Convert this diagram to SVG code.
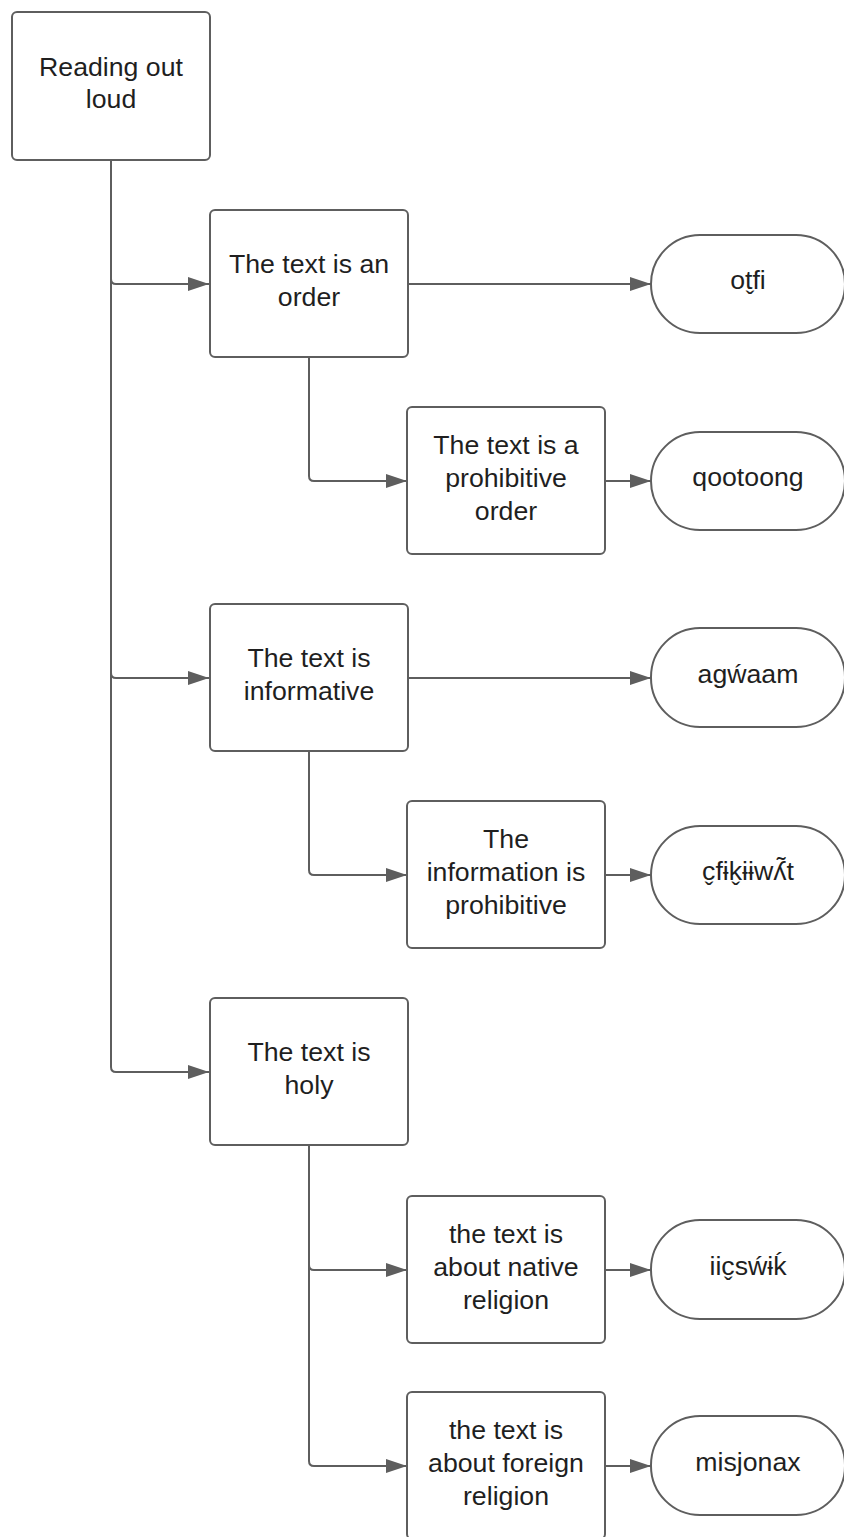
<svg xmlns="http://www.w3.org/2000/svg" width="844" height="1537" viewBox="0 0 844 1537">
<style>
.box{fill:#fff;stroke:#5e5e5e;stroke-width:2}
.ln{fill:none;stroke:#5e5e5e;stroke-width:2}
.t{font-family:"Liberation Sans","DejaVu Sans",Arial,sans-serif;font-size:26.7px;fill:#1f1f1f;text-anchor:middle}
</style>
<defs>
<marker id="arr" markerUnits="userSpaceOnUse" markerWidth="22" markerHeight="14" refX="21" refY="7" orient="auto">
<path d="M0,0 L21,7 L0,14 z" fill="#5e5e5e"/>
</marker>
</defs>
<rect width="844" height="1537" fill="#fff"/>
<g id="connectors">
<path class="ln" d="M111,160 V279 Q111,284 116,284 H209" marker-end="url(#arr)"/>
<path class="ln" d="M111,160 V673 Q111,678 116,678 H209" marker-end="url(#arr)"/>
<path class="ln" d="M111,160 V1067 Q111,1072 116,1072 H209" marker-end="url(#arr)"/>
<path class="ln" d="M408,284 H651" marker-end="url(#arr)"/>
<path class="ln" d="M309,357 V476 Q309,481 314,481 H407" marker-end="url(#arr)"/>
<path class="ln" d="M605,481 H651" marker-end="url(#arr)"/>
<path class="ln" d="M408,678 H651" marker-end="url(#arr)"/>
<path class="ln" d="M309,751 V870 Q309,875 314,875 H407" marker-end="url(#arr)"/>
<path class="ln" d="M605,875 H651" marker-end="url(#arr)"/>
<path class="ln" d="M309,1145 V1265 Q309,1270 314,1270 H407" marker-end="url(#arr)"/>
<path class="ln" d="M309,1145 V1461 Q309,1466 314,1466 H407" marker-end="url(#arr)"/>
<path class="ln" d="M605,1270 H651" marker-end="url(#arr)"/>
<path class="ln" d="M605,1466 H651" marker-end="url(#arr)"/>
</g>
<g id="root">
<rect class="box" x="12" y="12" width="198" height="148" rx="5"/>
<text class="t" x="111" y="76">Reading out</text>
<text class="t" x="111" y="108">loud</text>
</g>
<g id="order">
<rect class="box" x="210" y="210" width="198" height="147" rx="5"/>
<text class="t" x="309" y="273">The text is an</text>
<text class="t" x="309" y="306">order</text>
</g>
<g id="otfi">
<rect class="box" x="651" y="235" width="194" height="98" rx="49"/>
<text class="t" x="748" y="289">ot̬fi</text>
</g>
<g id="prohibitive-order">
<rect class="box" x="407" y="407" width="198" height="147" rx="5"/>
<text class="t" x="506" y="454">The text is a</text>
<text class="t" x="506" y="487">prohibitive</text>
<text class="t" x="506" y="520">order</text>
</g>
<g id="qootoong">
<rect class="box" x="651" y="432" width="194" height="98" rx="49"/>
<text class="t" x="748" y="486">qootoong</text>
</g>
<g id="informative">
<rect class="box" x="210" y="604" width="198" height="147" rx="5"/>
<text class="t" x="309" y="667">The text is</text>
<text class="t" x="309" y="700">informative</text>
</g>
<g id="agwaam">
<rect class="box" x="651" y="628" width="194" height="99" rx="49"/>
<text class="t" x="748" y="683">agẃaam</text>
</g>
<g id="info-prohibitive">
<rect class="box" x="407" y="801" width="198" height="147" rx="5"/>
<text class="t" x="506" y="848">The</text>
<text class="t" x="506" y="881">information is</text>
<text class="t" x="506" y="914">prohibitive</text>
</g>
<g id="cfikiiwlt">
<rect class="box" x="651" y="826" width="194" height="98" rx="49"/>
<text class="t" x="748" y="880">c̬fɨk̬ɨɨwʎ̃t</text>
</g>
<g id="holy">
<rect class="box" x="210" y="998" width="198" height="147" rx="5"/>
<text class="t" x="309" y="1061">The text is</text>
<text class="t" x="309" y="1094">holy</text>
</g>
<g id="native">
<rect class="box" x="407" y="1196" width="198" height="147" rx="5"/>
<text class="t" x="506" y="1243">the text is</text>
<text class="t" x="506" y="1276">about native</text>
<text class="t" x="506" y="1309">religion</text>
</g>
<g id="iicswik">
<rect class="box" x="651" y="1220" width="194" height="99" rx="49"/>
<text class="t" x="748" y="1275">iic̬sẃɨḱ</text>
</g>
<g id="foreign">
<rect class="box" x="407" y="1392" width="198" height="147" rx="5"/>
<text class="t" x="506" y="1439">the text is</text>
<text class="t" x="506" y="1472">about foreign</text>
<text class="t" x="506" y="1505">religion</text>
</g>
<g id="misjonax">
<rect class="box" x="651" y="1416" width="194" height="99" rx="49"/>
<text class="t" x="748" y="1471">misjonax</text>
</g>
</svg>
